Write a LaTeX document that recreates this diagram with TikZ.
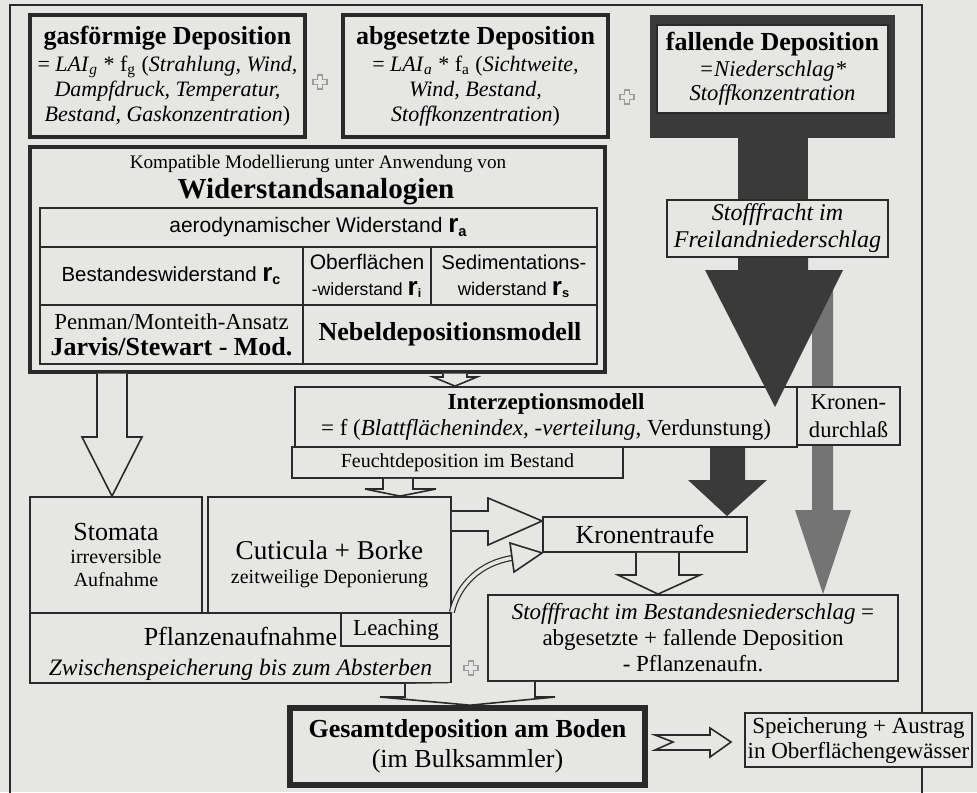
\documentclass[tikz,border=0pt]{standalone}
\usepackage{fontspec}
\setmainfont{Liberation Serif}
\setsansfont{Liberation Sans}
\definecolor{paper}{HTML}{E6E6E4}
\definecolor{ink}{HTML}{2A2A2A}
\definecolor{dark}{HTML}{3A3A3A}
\definecolor{midgray}{HTML}{747474}
\definecolor{plusgray}{HTML}{9C9C9C}
\pgfdeclarelayer{back}
\pgfsetlayers{back,main}
\newcommand{\setfs}[2]{\fontsize{#1}{#2}\selectfont}
\newcommand{\rsym}[1]{{\bfseries\setfs{13}{13}r}\textsubscript{\bfseries #1}}
\tikzset{
  box/.style={draw=ink,fill=paper,line width=0.9pt,inner sep=0pt,align=center},
  heavybox/.style={box,line width=1.6pt},
  sized/.style 2 args={minimum width=#1*0.5pt,minimum height=#2*0.5pt},
  hollow/.style={draw=ink,fill=paper,line width=0.8pt},
  plusmark/.pic={\draw[plusgray,line width=0.6pt,fill=paper] (-2.5,-7)--(2.5,-7)--(2.5,-2.5)--(7,-2.5)--(7,2.5)
    --(2.5,2.5)--(2.5,7)--(-2.5,7)--(-2.5,2.5)--(-7,2.5)--(-7,-2.5)--(-2.5,-2.5)--cycle;}
}

\begin{document}
\begin{tikzpicture}[x=0.5pt,y=-0.5pt]
    \useasboundingbox (0,0) rectangle (977,792);
    \clip (0,0) rectangle (977,792);
    \begin{pgfonlayer}{back}
        \fill[paper] (0,0) rectangle (977,792);
        \draw[ink,line width=0.9pt] (10,800) -- (10,5) -- (922,5) -- (922,800);
    \end{pgfonlayer}

    % top row
    \node[heavybox,sized={275}{122},font=\setfs{11}{12.5}] (gasdep) at (167.5,76)
      {{\bfseries\setfs{13}{15}gasförmige Deposition}\\[1pt]
       = \textit{LAI}\textsubscript{\textit{g}} * f\textsubscript{g} (\textit{Strahlung, Wind,}\\
       \textit{Dampfdruck, Temperatur,}\\
       \textit{Bestand, Gaskonzentration})};
    \node[heavybox,sized={265}{122},font=\setfs{11}{12.5}] (setdep) at (475.5,76)
      {{\bfseries\setfs{13}{15}abgesetzte Deposition}\\[1pt]
       = \textit{LAI}\textsubscript{\textit{a}} * f\textsubscript{a} (\textit{Sichtweite,}\\
       \textit{Wind, Bestand,}\\
       \textit{Stoffkonzentration})};
    \node[fill=dark,inner sep=0pt,sized={245}{123}] (falldark) at (772.5,76.5) {};
    \node[box,line width=0.6pt,sized={231}{88},font=\setfs{11.3}{12}] (falldep) at (772.5,69)
      {{\bfseries\setfs{13}{15}fallende Deposition}\\[1pt]
       \textit{=Niederschlag*}\\
       \textit{Stoffkonzentration}};
    \pic at (320,82) {plusmark};
    \pic at (627,97) {plusmark};

    % resistance model block
    \node[heavybox,sized={575}{225}] (widerbox) at (317.5,259.5) {};
    \node[font=\setfs{9.6}{11}] (kompat) at (318,164) {Kompatible Modellierung unter Anwendung von};
    \node[font=\bfseries\setfs{14.5}{16}] (analog) at (316,192) {Widerstandsanalogien};
    \node[box,sized={557}{39},font=\sffamily\setfs{10.5}{12}] (raero) at (318.5,227.5)
      {aerodynamischer Widerstand \rsym{a}};
    \node[box,sized={263}{58},font=\sffamily\setfs{10.2}{12}] (rcbest) at (171.5,276)
      {Bestandeswiderstand \rsym{c}};
    \node[box,sized={128}{58},font=\sffamily\setfs{10.5}{13}] (risurf) at (367,276)
      {Oberflächen\\{\setfs{8.8}{10}-widerstand \rsym{i}}};
    \node[box,sized={166}{58},font=\sffamily\setfs{10}{13}] (rssed) at (514,276)
      {Sedimentations-\\{\setfs{9.2}{10}widerstand \rsym{s}}};
    \node[box,sized={263}{59},font=\setfs{11.4}{13}] (penman) at (171.5,334.5)
      {Penman/Monteith-Ansatz\\{\bfseries\setfs{13}{14}Jarvis/Stewart - Mod.}};
    \node[box,sized={294}{59},font=\bfseries\setfs{13}{14}] (nebel) at (450,334.5)
      {Nebeldepositionsmodell};

    % right column
    \node[box,sized={221}{57},font=\itshape\setfs{12}{13.5}] (freiland) at (777.5,228.5)
      {Stofffracht im\\Freilandniederschlag};
    \begin{pgfonlayer}{back}
        \fill[midgray] (812,280) -- (812,510) -- (795,510) -- (823,594)
          -- (851,510) -- (833,510) -- (833,280) -- cycle;
    \end{pgfonlayer}
    \fill[dark] (falldark.south -| 738,0) rectangle (freiland.north -| 808,0);

    % interception
    \node[box,sized={502}{60},font=\setfs{11.5}{12}] (interz) at (546,417)
      {{\bfseries Interzeptionsmodell}\\[1pt]
       = f (\textit{Blattflächenindex, -verteilung}, Verdunstung)};
    \node[box,sized={103}{58},font=\setfs{11.3}{14}] (kronendl) at (848.5,416) {Kronen-\\durchlaß};
    \node[box,sized={331}{31},font=\setfs{10}{12}] (feucht) at (457.5,462.5) {Feuchtdeposition im Bestand};
    \coordinate (droptip) at (775,407);
    \fill[dark] (freiland.south -| 738,0) -- (738,270) -- (705,270) -- (droptip)
      -- (843,270) -- (808,270) -- (freiland.south -| 808,0) -- cycle;

    % plant compartments
    \node[box,sized={172}{116},font=\setfs{10}{11.5}] (stoma) at (116,555)
      {{\setfs{13}{15}Stomata}\\irreversible\\Aufnahme};
    \node[box,sized={243}{116},font=\setfs{10}{12}] (cutic) at (329.5,555)
      {\rule{0pt}{19pt}{\setfs{13.6}{16}Cuticula + Borke}\\zeitweilige Deponierung};
    \node[box,sized={421}{70},font=\setfs{13}{15}] (pflanz) at (240.5,648)
      {\rule{0pt}{15pt}Pflanzenaufnahme\\{\itshape\setfs{11.8}{13}Zwischenspeicherung bis zum Absterben}};
    \node[box,sized={110}{33},font=\setfs{11.5}{12}] (leach) at (396,629.5) {Leaching};
    \node[box,sized={204}{35},font=\setfs{13}{14}] (traufe) at (645,534.5) {Kronentraufe};
    \node[box,sized={410}{86},font=\setfs{11.5}{13}] (bestnd) at (693,638)
      {\textit{Stofffracht im Bestandesniederschlag} =\\
       abgesetzte + fallende Deposition\\
       - Pflanzenaufn.};
    \pic at (471,668) {plusmark};

    % ground
    \node[box,line width=2.8pt,sized={355}{77},font=\setfs{13}{15}] (gesamt) at (467.5,746.5)
      {{\bfseries Gesamtdeposition am Boden}\\(im Bulksammler)};
    \node[box,sized={227}{54},font=\setfs{11.5}{12.5}] (speicher) at (858.5,740)
      {Speicherung + Austrag\\in Oberflächengewässer};

    % block arrows
    \filldraw[hollow] (widerbox.south -| 97,0) -- (97,437) -- (82,437) -- (stoma.north -| 112,0)
      -- (142,437) -- (127,437) -- (widerbox.south -| 127,0);
    \filldraw[hollow] (widerbox.south -| 443,0) -- (443,377) -- (433,377) -- (interz.north -| 455,0)
      -- (477,377) -- (467,377) -- (widerbox.south -| 467,0);
    \filldraw[hollow] (feucht.south -| 383,0) -- (383,489) -- (365,489) -- (cutic.north -| 400,0)
      -- (436,489) -- (413,489) -- (feucht.south -| 413,0);
    \fill[dark] (interz.south -| 710,0) -- (710,480) -- (688,480) -- (traufe.north -| 727,0)
      -- (767,480) -- (745,480) -- (interz.south -| 745,0) -- cycle;
    \filldraw[hollow] (cutic.east |- 0,511) -- (488,511) -- (488,498) -- (traufe.west |- 0,521)
      -- (488,545) -- (488,531) -- (cutic.east |- 0,531);
    \draw[ink,double=paper,double distance=1.8pt,line width=0.6pt]
      (leach.north east) .. controls (458,585) and (480,563) .. (512,558);
    \filldraw[hollow] (510,543) -- (traufe.south west) -- (514,572) -- cycle;
    \filldraw[hollow] (traufe.south -| 636,0) -- (636,575) -- (618,575) -- (bestnd.north -| 658,0)
      -- (700,575) -- (679,575) -- (traufe.south -| 679,0);
    \filldraw[hollow] (pflanz.south -| 405,0) -- (405,697) -- (380,697) -- (gesamt.north -| 470,0)
      -- (555,697) -- (535,697) -- (bestnd.south -| 535,0);
    \filldraw[hollow] (655,735) -- (710,735) -- (710,728) -- (731,742) -- (710,757)
      -- (710,750) -- (655,750) -- (673,742) -- cycle;
\end{tikzpicture}
\end{document}
